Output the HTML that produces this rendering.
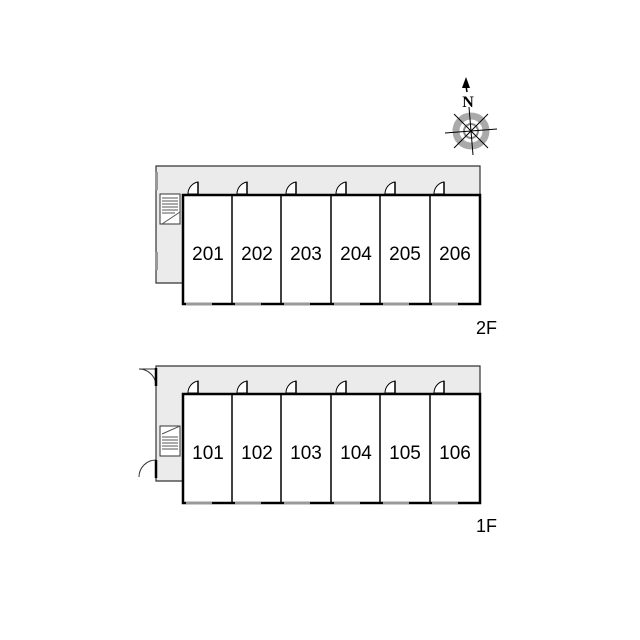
<!DOCTYPE html>
<html><head><style>body{margin:0;background:#fff}svg{display:block}</style></head><body>
<svg width="640" height="640" viewBox="0 0 640 640" xmlns="http://www.w3.org/2000/svg" font-family="Liberation Sans, sans-serif">
<defs>
<g id="door"><path d="M0,0 v-12 a12,12 0 0 0 -10,12 z" fill="#fff" stroke="#000" stroke-width="1"/><line x1="0" y1="0" x2="0" y2="-12" stroke="#000" stroke-width="1.5"/></g>
<g id="win"><rect x="0" y="-1.5" width="26" height="3" fill="#999"/></g>
</defs>
<g>
<path d="M156,166 H480 V195 H183 V283 H156 Z" fill="#ebebeb" stroke="#333" stroke-width="1.2"/>
<rect x="155" y="172" width="3" height="18" fill="#999"/>
<rect x="155" y="252" width="3" height="18" fill="#999"/>
<rect x="160" y="194" width="20" height="30" fill="#fff" stroke="#333" stroke-width="1"/>
<g stroke="#555" stroke-width="1"><line x1="162" y1="198" x2="178" y2="198"/><line x1="162" y1="201" x2="178" y2="201"/><line x1="162" y1="204" x2="178" y2="204"/><line x1="162" y1="207" x2="178" y2="207"/><line x1="162" y1="210" x2="178" y2="210"/><line x1="162" y1="213" x2="175" y2="213"/><line x1="162" y1="224" x2="180" y2="212"/></g>
<rect x="183" y="195" width="297" height="109" fill="#fff" stroke="#000" stroke-width="2.5"/>
<g stroke="#000" stroke-width="1.5"><line x1="232" y1="195" x2="232" y2="304"/><line x1="281" y1="195" x2="281" y2="304"/><line x1="331" y1="195" x2="331" y2="304"/><line x1="380" y1="195" x2="380" y2="304"/><line x1="430" y1="195" x2="430" y2="304"/></g>
<use href="#door" x="198" y="194"/><use href="#door" x="247" y="194"/><use href="#door" x="296" y="194"/><use href="#door" x="346" y="194"/><use href="#door" x="395" y="194"/><use href="#door" x="444" y="194"/>
<use href="#win" x="186" y="304"/><use href="#win" x="235" y="304"/><use href="#win" x="284" y="304"/><use href="#win" x="334" y="304"/><use href="#win" x="383" y="304"/><use href="#win" x="432" y="304"/>
<g font-size="19" text-anchor="middle"><text x="208" y="260">201</text><text x="257" y="260">202</text><text x="306" y="260">203</text><text x="356" y="260">204</text><text x="405" y="260">205</text><text x="455" y="260">206</text></g>
<text x="476" y="334" font-size="18">2F</text>
</g>
<g>
<path d="M156,366 H480 V394 H183 V481 H156 Z" fill="#ebebeb" stroke="#333" stroke-width="1.2"/>
<path d="M156,369 h-17 a17,17 0 0 1 17,17" fill="none" stroke="#333" stroke-width="1"/>
<line x1="156" y1="368" x2="156" y2="386" stroke="#000" stroke-width="2.5"/>
<path d="M156,460 a17,17 0 0 0 -17,17" fill="none" stroke="#333" stroke-width="1"/>
<line x1="156" y1="460" x2="156" y2="478" stroke="#000" stroke-width="2.5"/>
<rect x="160" y="426" width="20" height="30" fill="#fff" stroke="#333" stroke-width="1"/>
<g stroke="#555" stroke-width="1"><line x1="162" y1="437" x2="178" y2="437"/><line x1="162" y1="440" x2="178" y2="440"/><line x1="162" y1="443" x2="178" y2="443"/><line x1="162" y1="446" x2="178" y2="446"/><line x1="162" y1="449" x2="178" y2="449"/><line x1="162" y1="434" x2="180" y2="426"/></g>
<rect x="183" y="394" width="297" height="109" fill="#fff" stroke="#000" stroke-width="2.5"/>
<g stroke="#000" stroke-width="1.5"><line x1="232" y1="394" x2="232" y2="503"/><line x1="281" y1="394" x2="281" y2="503"/><line x1="331" y1="394" x2="331" y2="503"/><line x1="380" y1="394" x2="380" y2="503"/><line x1="430" y1="394" x2="430" y2="503"/></g>
<use href="#door" x="198" y="393"/><use href="#door" x="247" y="393"/><use href="#door" x="296" y="393"/><use href="#door" x="346" y="393"/><use href="#door" x="395" y="393"/><use href="#door" x="444" y="393"/>
<use href="#win" x="186" y="503"/><use href="#win" x="235" y="503"/><use href="#win" x="284" y="503"/><use href="#win" x="334" y="503"/><use href="#win" x="383" y="503"/><use href="#win" x="432" y="503"/>
<g font-size="19" text-anchor="middle"><text x="208" y="459">101</text><text x="257" y="459">102</text><text x="306" y="459">103</text><text x="356" y="459">104</text><text x="405" y="459">105</text><text x="455" y="459">106</text></g>
<text x="476" y="532" font-size="18">1F</text>
</g>
<g transform="translate(471,131)">
<circle r="15" fill="none" stroke="#aaa" stroke-width="7"/>
<circle r="7" fill="none" stroke="#888" stroke-width="2"/>
<g stroke="#000" stroke-width="1"><line x1="-26" y1="2" x2="26" y2="-2"/><line x1="-2" y1="-24" x2="2" y2="24"/><line x1="-17" y1="-17" x2="17" y2="17"/><line x1="-17" y1="17" x2="17" y2="-17"/></g>
<text x="-3" y="-24" font-size="16" font-weight="bold" font-family="Liberation Serif, serif" text-anchor="middle">N</text>
<path d="M-5,-54 l-4,11 h8 z" fill="#000"/><line x1="-5" y1="-45" x2="-4" y2="-39" stroke="#000" stroke-width="1.5"/>
</g>
</svg>
</body></html>
